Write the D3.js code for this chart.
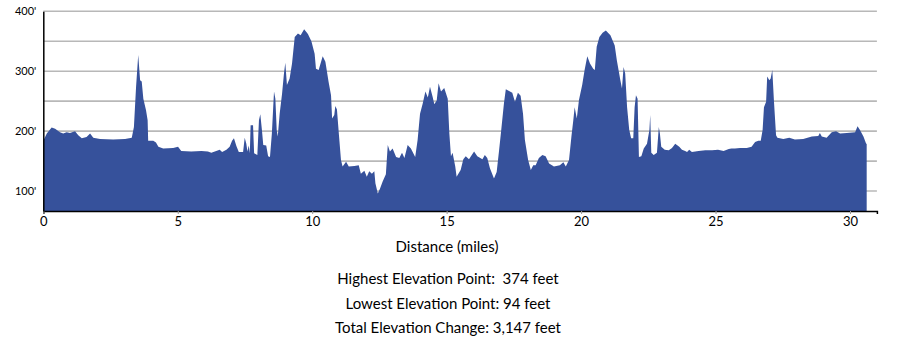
<!DOCTYPE html>
<html>
<head>
<meta charset="utf-8">
<script src="https://cdn.jsdelivr.net/npm/d3@7"></script>
<style>
  body { margin: 0; background: #fff; }
  text { font-family: Lato, "Open Sans", sans-serif; }
</style>
</head>
<body>
<div id="chart"></div>
<script>
// distance along route (miles) and elevation (feet)
var miles = [0, 0.13, 0.31, 0.44, 0.62, 0.74, 0.87, 0.99, 1.18, 1.30, 1.43, 1.61, 1.74, 1.86, 2.11, 2.60, 3.04, 3.29, 3.37, 3.45,
  3.53, 3.60, 3.66, 3.72, 3.82, 3.88, 3.90, 4.09, 4.19, 4.28, 4.46, 4.83, 5.01, 5.13, 5.50, 5.88, 6.12, 6.25, 6.43, 6.56,
  6.65, 6.81, 6.93, 7.02, 7.09, 7.18, 7.27, 7.43, 7.49, 7.55, 7.59, 7.64, 7.68, 7.71, 7.80, 7.84, 7.96, 8.02, 8.07, 8.13,
  8.18, 8.29, 8.36, 8.43, 8.50, 8.58, 8.63, 8.68, 8.72, 8.79, 8.88, 8.95, 9.00, 9.06, 9.16, 9.25, 9.35, 9.47, 9.57, 9.70,
  9.84, 9.97, 10.09, 10.14, 10.24, 10.39, 10.49, 10.61, 10.70, 10.74, 10.82, 10.86, 10.92, 10.99, 11.07, 11.13, 11.26, 11.36, 11.57, 11.73,
  11.81, 11.94, 12.03, 12.12, 12.22, 12.31, 12.35, 12.44, 12.52, 12.62, 12.74, 12.81, 12.89, 12.99, 13.12, 13.24, 13.34, 13.43, 13.55, 13.67,
  13.83, 13.92, 14.01, 14.11, 14.21, 14.30, 14.38, 14.48, 14.54, 14.63, 14.70, 14.79, 14.91, 15.04, 15.10, 15.16, 15.22, 15.32, 15.37, 15.52,
  15.62, 15.71, 15.83, 16.02, 16.14, 16.33, 16.42, 16.51, 16.61, 16.76, 16.86, 16.95, 17.03, 17.13, 17.20, 17.32, 17.44, 17.54, 17.65, 17.75,
  17.84, 17.91, 18.03, 18.13, 18.22, 18.31, 18.43, 18.56, 18.68, 18.81, 18.99, 19.21, 19.34, 19.43, 19.55, 19.64, 19.71, 19.76, 19.84, 19.92,
  20.04, 20.13, 20.23, 20.33, 20.45, 20.51, 20.58, 20.68, 20.80, 20.92, 21.09, 21.25, 21.33, 21.46, 21.52, 21.58, 21.64, 21.71, 21.79, 21.86,
  21.94, 21.99, 22.04, 22.10, 22.15, 22.24, 22.33, 22.45, 22.54, 22.57, 22.61, 22.70, 22.82, 22.89, 22.93, 22.98, 23.11, 23.26, 23.38, 23.50,
  23.65, 23.75, 23.87, 23.94, 24.02, 24.12, 24.37, 24.62, 24.87, 25.09, 25.30, 25.49, 25.59, 25.72, 25.91, 26.16, 26.34, 26.47, 26.59, 26.68,
  26.75, 26.80, 26.88, 26.92, 27.00, 27.05, 27.11, 27.17, 27.25, 27.30, 27.52, 27.74, 27.95, 28.26, 28.58, 28.82, 28.88, 28.95, 29.13, 29.32,
  29.48, 29.63, 29.88, 30.19, 30.28, 30.37, 30.50, 30.60, 30.62];
var elevation = [184, 196, 206, 204, 198, 196, 198, 197, 200, 193, 188, 190, 196, 189, 187, 186, 187, 189, 207, 274,
  327, 285, 283, 254, 235, 218, 184, 184, 181, 174, 171, 172, 174, 167, 166, 167, 166, 164, 167, 169,
  165, 169, 174, 184, 188, 175, 165, 165, 189, 179, 166, 176, 163, 210, 210, 163, 160, 218, 228, 202,
  177, 176, 158, 157, 196, 266, 254, 202, 191, 229, 263, 296, 314, 277, 288, 313, 357, 363, 360, 370,
  362, 350, 329, 304, 302, 325, 316, 282, 260, 221, 227, 242, 236, 196, 152, 141, 149, 141, 142, 143,
  129, 134, 124, 133, 129, 133, 113, 96, 104, 116, 128, 177, 166, 171, 157, 155, 164, 155, 177, 171,
  157, 185, 229, 246, 266, 256, 274, 257, 245, 251, 280, 266, 272, 254, 196, 158, 164, 141, 124, 135,
  153, 158, 153, 166, 158, 153, 160, 155, 138, 121, 132, 168, 202, 246, 270, 267, 264, 249, 264, 259,
  229, 185, 152, 135, 143, 143, 155, 160, 158, 146, 141, 143, 148, 141, 152, 191, 218, 240, 221, 252,
  277, 302, 325, 313, 304, 302, 341, 357, 364, 368, 360, 343, 318, 285, 271, 307, 296, 240, 202, 188,
  188, 240, 260, 254, 157, 158, 171, 179, 202, 227, 164, 160, 164, 207, 196, 174, 169, 168, 172, 179,
  174, 169, 167, 165, 169, 165, 167, 168, 168, 169, 167, 170, 171, 171, 172, 172, 174, 182, 184, 184,
  202, 240, 249, 291, 285, 288, 302, 251, 193, 189, 187, 189, 186, 187, 191, 192, 197, 191, 189, 198,
  200, 196, 197, 198, 208, 202, 191, 179, 179];

var xTicks = [0, 5, 10, 15, 20, 25, 30];
var yTicks = [100, 200, 300, 400];
var gridValues = [100, 150, 200, 250, 300, 350, 400];
var statLines = ["Highest Elevation Point:  374 feet", "Lowest Elevation Point: 94 feet", "Total Elevation Change: 3,147 feet"];

var data = miles.map(function (m, i) { return { mile: m, elev: elevation[i] }; });

var svg = d3.select("#chart").append("svg")
    .attr("width", 911)
    .attr("height", 345);

var x = d3.scaleLinear().domain([0, 31]).range([43.3, 876.9]);
var y = d3.scaleLinear().domain([66.7, 400]).range([211, 11.3]);

// grid
svg.append("g").selectAll("line")
    .data(gridValues)
    .enter().append("line")
    .attr("x1", x(0)).attr("x2", x(31))
    .attr("y1", function (d) { return y(d); })
    .attr("y2", function (d) { return y(d); })
    .attr("stroke", "#b8b8b8")
    .attr("stroke-width", 1.6);

var area = d3.area()
    .x(function (d) { return x(d.mile); })
    .y0(y(66.7))
    .y1(function (d) { return y(d.elev); })
    .curve(d3.curveLinear);

svg.append("path")
    .datum(data)
    .attr("d", area)
    .attr("fill", "#36519b");

// x axis
var xAxis = svg.append("g")
    .attr("transform", "translate(0," + y(66.7) + ")")
    .call(d3.axisBottom(x).tickValues(xTicks).tickSize(3).tickPadding(3).tickFormat(d3.format("d")));
xAxis.select(".domain").attr("stroke", "#000").attr("stroke-width", 1.5);
xAxis.selectAll(".tick line").attr("stroke", "#999");
xAxis.selectAll("text").attr("font-size", "13px").attr("fill", "#000")
    .attr("font-family", "Lato, sans-serif");

// y axis
var yAxis = svg.append("g")
    .attr("transform", "translate(" + x(0) + ",0)")
    .call(d3.axisLeft(y).tickValues(yTicks).tickSize(0).tickPadding(7)
        .tickFormat(function (d) { return d + "'"; }));
yAxis.select(".domain").attr("stroke", "#000").attr("stroke-width", 1.5);
yAxis.selectAll("text").attr("font-size", "11px").attr("fill", "#000")
    .attr("font-family", "Lato, sans-serif");

svg.append("text")
    .attr("x", 447).attr("y", 252)
    .attr("text-anchor", "middle")
    .attr("font-size", "15px")
    .attr("fill", "#000")
    .text("Distance (miles)");

svg.selectAll(".stat")
    .data(statLines)
    .enter().append("text")
    .attr("class", "stat")
    .attr("x", 448)
    .attr("y", function (d, i) { return 284 + i * 24.5; })
    .attr("text-anchor", "middle")
    .attr("font-size", "15px")
    .attr("fill", "#000")
    .style("white-space", "pre")
    .text(function (d) { return d; });
</script>
</body>
</html>
